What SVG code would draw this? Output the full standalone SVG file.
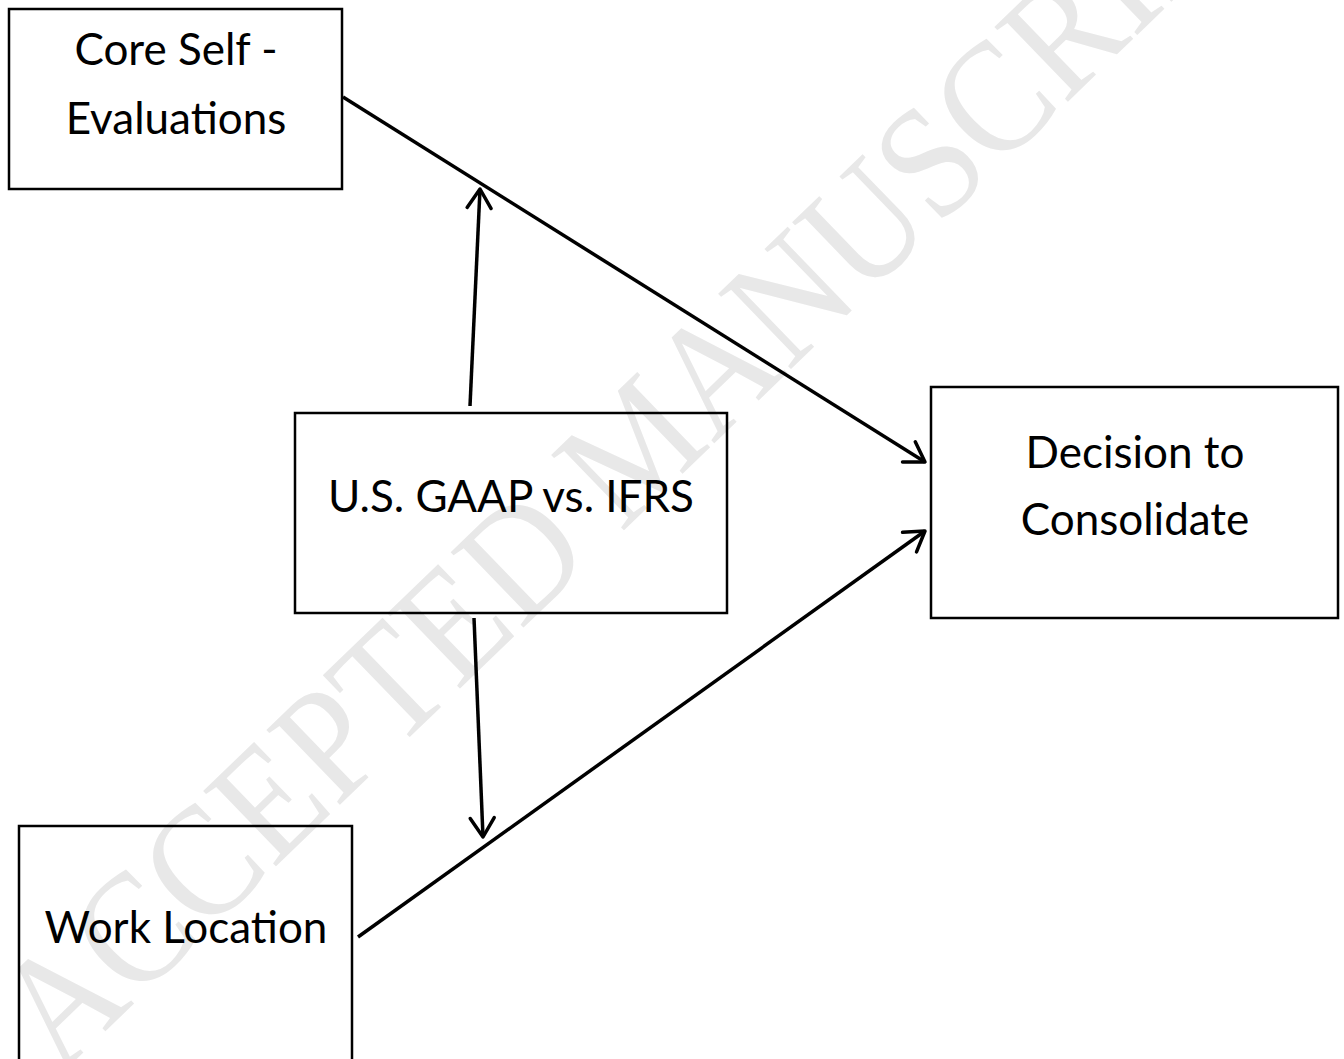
<svg xmlns="http://www.w3.org/2000/svg" width="1344" height="1059" viewBox="0 0 1344 1059">
  <style>
    .box { fill: none; stroke: #000; stroke-width: 2.5; }
    .lbl { font-family: Lato, "Open Sans", "Liberation Sans", sans-serif; font-size: 44px; fill: #000; text-anchor: middle; }
    .conn { fill: none; stroke: #000; stroke-width: 3.5; }
    .wm { font-family: "Liberation Serif", "DejaVu Serif", serif; font-size: 160px; fill: #e8e8e8; }
  </style>
  <defs>
    <marker id="arr" markerUnits="userSpaceOnUse" markerWidth="50" markerHeight="50" viewBox="-30 -25 50 50" refX="0" refY="0" orient="auto">
      <path d="M-19,-12 L0,0 L-19,12" fill="none" stroke="#000" stroke-width="3.5" stroke-linecap="round" stroke-linejoin="round"/>
    </marker>
  </defs>
  <rect width="1344" height="1059" fill="#fff"/>
  <g id="watermark">
    <text class="wm" transform="translate(60,1075) rotate(-44) scale(0.9,1)">ACCEPTED MANUSCRIPT</text>
  </g>
  <g id="connectors">
    <line class="conn" x1="343" y1="97" x2="925" y2="462" marker-end="url(#arr)"/>
    <line class="conn" x1="358" y1="937" x2="925" y2="531" marker-end="url(#arr)"/>
    <line class="conn" x1="470" y1="406" x2="480" y2="189" marker-end="url(#arr)"/>
    <line class="conn" x1="474" y1="618" x2="483" y2="837" marker-end="url(#arr)"/>
  </g>
  <g id="node-cse">
    <rect class="box" x="9" y="9" width="333" height="180"/>
    <text class="lbl" x="176" y="65">Core Self -</text>
    <text class="lbl" x="176" y="134">Evaluations</text>
  </g>
  <g id="node-gaap">
    <rect class="box" x="295" y="413" width="432" height="200"/>
    <text class="lbl" x="511" y="512">U.S. GAAP vs. IFRS</text>
  </g>
  <g id="node-decision">
    <rect class="box" x="931" y="387" width="407" height="231"/>
    <text class="lbl" x="1135" y="468">Decision to</text>
    <text class="lbl" x="1135" y="535">Consolidate</text>
  </g>
  <g id="node-work">
    <rect class="box" x="19" y="826" width="333" height="260"/>
    <text class="lbl" x="186" y="943">Work Location</text>
  </g>
</svg>
